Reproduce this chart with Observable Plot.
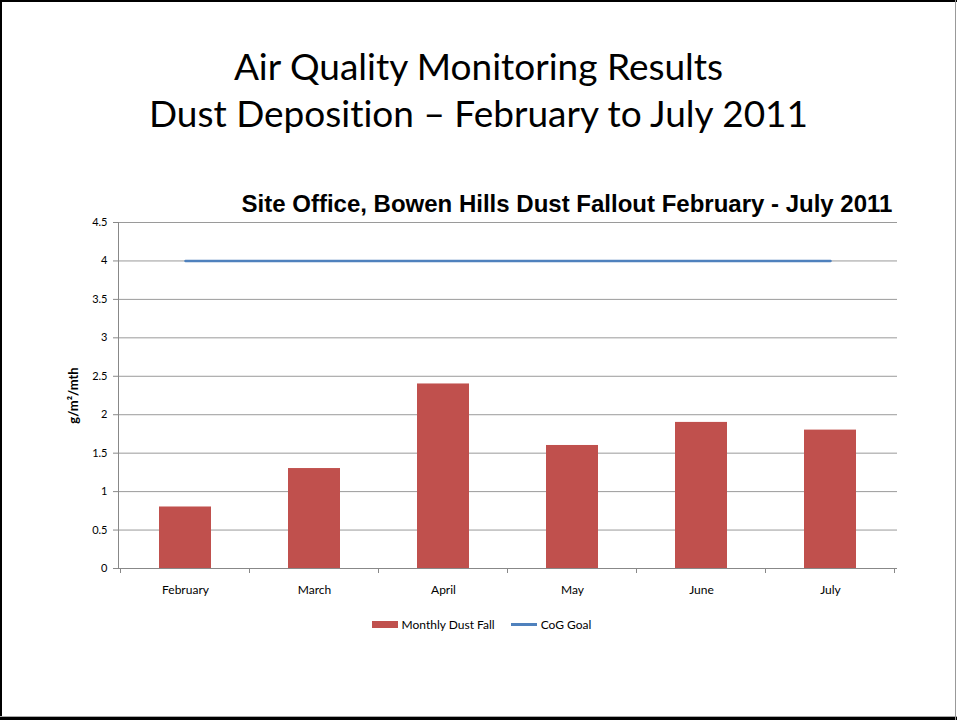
<!DOCTYPE html>
<html><head><meta charset="utf-8">
<script src="https://cdn.jsdelivr.net/npm/d3@7"></script>
<script src="https://cdn.jsdelivr.net/npm/@observablehq/plot@0.6"></script>
<style>
body{margin:0;background:#fff;}
#page{position:relative;width:957px;height:720px;overflow:hidden;font-family:Lato,"Open Sans",sans-serif;background:#fff;}
.bd{position:absolute;}
#title{position:absolute;left:0;width:957px;top:42px;text-align:center;font-size:37px;line-height:47px;color:#000;font-variant-ligatures:none;}
#ctitle{position:absolute;left:237px;width:660px;top:189px;text-align:center;font-family:"Liberation Sans",Arial,sans-serif;font-weight:bold;font-size:24px;line-height:30px;color:#000;white-space:nowrap;}
#chart{position:absolute;left:0;top:180px;}
#legend{position:absolute;left:0;width:957px;top:617px;display:flex;justify-content:center;align-items:center;font-size:12px;color:#000;padding-left:6px;box-sizing:border-box;}
.sw{display:inline-block;width:26px;margin-right:4px;}
.item{display:flex;align-items:center;margin:0 8px;}
</style></head>
<body>
<div id="page">
  <div class="bd" style="left:0;top:0;width:957px;height:2px;background:#000"></div>
  <div class="bd" style="left:0;top:0;width:2px;height:720px;background:#000"></div>
  <div class="bd" style="left:0;top:717px;width:957px;height:3px;background:#000"></div>
  <div class="bd" style="left:0;top:716px;width:957px;height:1px;background:#aaa"></div>
  <div class="bd" style="left:955px;top:0;width:1px;height:720px;background:#999"></div>
  <div id="title">Air Quality Monitoring Results<br>Dust Deposition – February to July 2011</div>
  <div id="ctitle">Site Office, Bowen Hills Dust Fallout February - July 2011</div>
  <div id="chart"></div>
  <div id="legend">
    <span class="item"><span class="sw" style="height:7px;background:#C0504D"></span>Monthly Dust Fall</span>
    <span class="item"><span class="sw" style="height:3px;background:#4F81BD"></span>CoG Goal</span>
  </div>
</div>
<script>
const months = ["February","March","April","May","June","July"];
const dustFall = [0.8, 1.3, 2.4, 1.6, 1.9, 1.8];
const cogGoal = [4, 4, 4, 4, 4, 4];
const yTicks = [0, 0.5, 1, 1.5, 2, 2.5, 3, 3.5, 4, 4.5];

const data = months.map((m, i) => ({month: m, dust: dustFall[i], goal: cogGoal[i]}));

function xTickMarks(index, scales, values, dimensions) {
  const x = scales.x;
  const bw = typeof x.bandwidth === "function" ? x.bandwidth() : x.bandwidth;
  const step = x(months[1]) - x(months[0]);
  const y0 = dimensions.height - dimensions.marginBottom;
  const bounds = months.map(m => x(m) + bw / 2 - step / 2)
    .concat([x(months[months.length - 1]) + bw / 2 + step / 2]);
  const g = d3.create("svg:g");
  g.selectAll("line").data(bounds).join("line")
    .attr("x1", d => d).attr("x2", d => d)
    .attr("y1", y0).attr("y2", y0 + 5)
    .attr("stroke", "#888").attr("stroke-width", 1);
  return g.node();
}

const chart = Plot.plot({
  width: 957,
  height: 420,
  marginLeft: 118,
  marginRight: 60,
  marginTop: 42,
  marginBottom: 32,
  style: {fontFamily: "Lato, 'Open Sans', sans-serif", fontSize: "12px", color: "#000", background: "transparent"},
  x: {domain: months, paddingInner: 0.6, paddingOuter: 0.3, label: null},
  y: {domain: [0, 4.5], label: null},
  marks: [
    Plot.gridY(yTicks, {stroke: "#9a9a9a", strokeOpacity: 1}),
    Plot.barY(data, {x: "month", y: "dust", fill: "#C0504D"}),
    Plot.lineY(data, {x: "month", y: "goal", stroke: "#4F81BD", strokeWidth: 2.5}),
    Plot.ruleY([0], {stroke: "#888"}),
    Plot.frame({anchor: "left", stroke: "#888"}),
    Plot.axisY(yTicks, {tickSize: 5, tickPadding: 6, stroke: "#888", fontSize: 11, label: null, tickFormat: d => String(d)}),
    Plot.axisX(months, {tickSize: 0, tickPadding: 17, fontSize: 12, label: null}),
    xTickMarks,
    Plot.text(["g/m²/mth"], {frameAnchor: "left", textAnchor: "middle", dx: -45, rotate: -90, fontWeight: "bold", fontSize: 13})
  ]
});
document.getElementById("chart").appendChild(chart);
</script>
</body></html>
